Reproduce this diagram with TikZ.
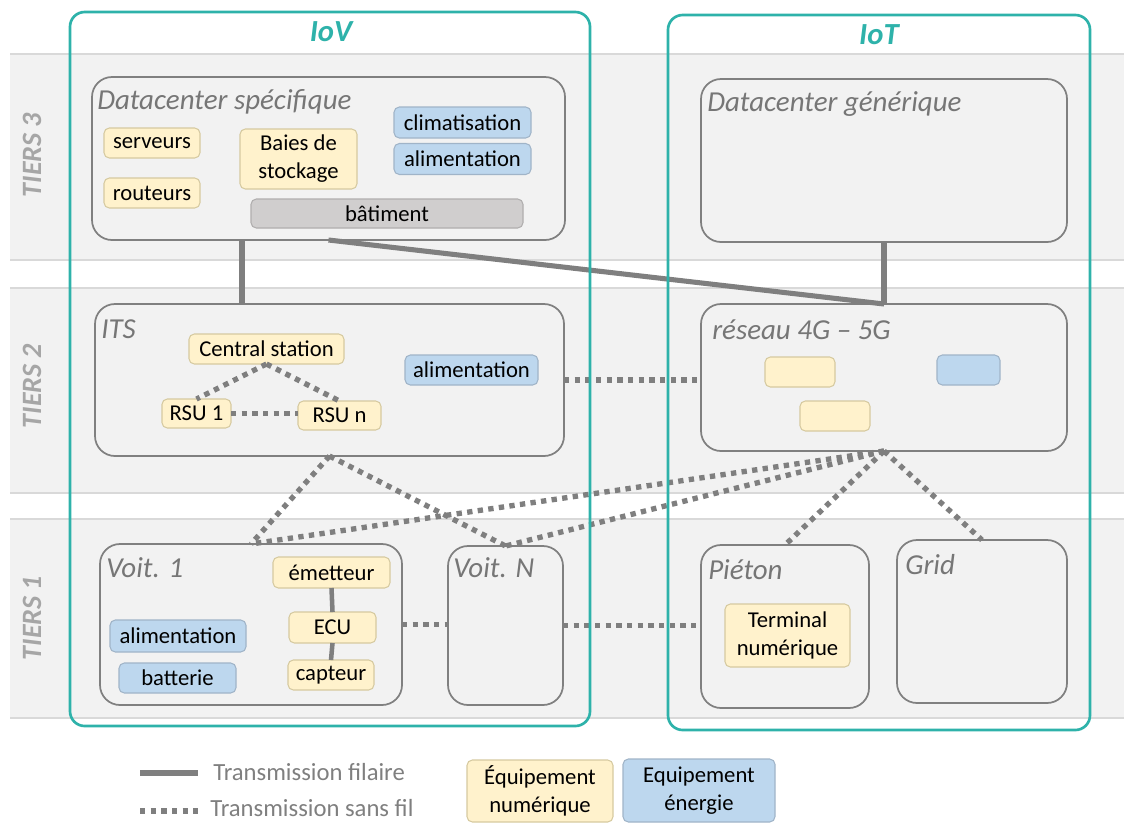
\documentclass[tikz,border=0pt]{standalone}
\usepackage{fontspec}
\setmainfont{Carlito}
\definecolor{teal1}{RGB}{46,178,170}
\definecolor{cgray}{RGB}{128,128,128}
\definecolor{lgray}{RGB}{127,127,127}
\definecolor{lblgray}{RGB}{118,118,118}
\definecolor{tiergray}{RGB}{166,166,166}
\definecolor{bandfill}{RGB}{242,242,242}
\definecolor{bandline}{RGB}{217,217,217}
\definecolor{yfill}{RGB}{255,242,204}
\definecolor{yborder}{RGB}{214,202,160}
\definecolor{bfill}{RGB}{189,215,238}
\definecolor{bborder}{RGB}{160,180,200}
\definecolor{gfill}{RGB}{208,206,206}
\definecolor{gborder}{RGB}{176,174,174}
\begin{document}
\begin{tikzpicture}[x=0.75pt,y=-0.75pt,
  sz/.style 2 args={minimum width=#1*0.75pt, minimum height=#2*0.75pt},
  cont/.style={draw=cgray, line width=1.3pt, fill=bandfill, rounded corners=15pt, inner sep=0pt, outer sep=0pt},
  frame/.style={draw=teal1, line width=2pt, rounded corners=11pt, inner sep=0pt, outer sep=0pt},
  smallbox/.style={line width=0.8pt, rounded corners=4pt, inner sep=0pt, outer sep=0pt, align=center, font=\fontsize{17}{21}\selectfont},
  ybox/.style={smallbox, draw=yborder, fill=yfill},
  bbox/.style={smallbox, draw=bborder, fill=bfill},
  gbox/.style={smallbox, draw=gborder, fill=gfill},
  lbl/.style={font=\fontsize{21.7}{25}\selectfont\itshape, text=lblgray, anchor=west, inner sep=0pt},
  tier/.style={font=\fontsize{21}{24}\selectfont\bfseries\itshape, text=tiergray, rotate=90, inner sep=0pt},
  netlbl/.style={font=\fontsize{23}{26}\selectfont\bfseries\itshape, text=teal1, inner sep=0pt},
  leg/.style={font=\fontsize{18.5}{22}\selectfont, text=lgray, anchor=west, inner sep=0pt},
  wired/.style={draw=lgray, line width=3.8pt},
  thinwired/.style={draw=lgray, line width=3.4pt},
  wless/.style={draw=lgray, line width=4pt, dash pattern=on 4pt off 4pt}]
\useasboundingbox (0,0) rectangle (1124,822);
% tier bands
\fill[bandfill] (10,54) rectangle (1124,260);
\fill[bandfill] (10,288) rectangle (1124,493);
\fill[bandfill] (10,519) rectangle (1124,718);
\draw[bandline, line width=0.8pt] (10,54) -- (1124,54) (10,260) -- (1124,260)
  (10,288) -- (1124,288) (10,493) -- (1124,493)
  (10,519) -- (1124,519) (10,718) -- (1124,718);
\node[tier] (t3) at (32,155) {TIERS 3};
\node[tier] (t2) at (32,386) {TIERS 2};
\node[tier] (t1) at (32,618) {TIERS 1};
% containers
\node[cont, sz={473}{163}] (dcs) at (328.5,158.5) {};
\node[lbl] (dcsl) at (97,102) {Datacenter spécifique};
\node[cont, sz={366}{163}] (dcg) at (884,160.5) {};
\node[lbl] (dcgl) at (707,104) {Datacenter générique};
\node[cont, sz={469}{152}] (its) at (329.5,380) {};
\node[lbl] (itsl) at (101,329) {ITS};
\node[cont, sz={366}{147}] (res) at (884,377.5) {};
\node[lbl] (resl) at (712,330) {réseau 4G – 5G};
\node[cont, sz={302}{161}] (v1) at (251,624.5) {};
\node[lbl] (v1l) at (106,568) {Voit. 1};
\node[cont, sz={115}{159}] (vn) at (505.5,625.5) {};
\node[lbl] (vnl) at (453,568) {Voit. N};
\node[cont, sz={168}{163}] (pie) at (785,626.5) {};
\node[lbl] (piel) at (708,570) {Piéton};
\node[cont, sz={170}{163}] (grid) at (982,621.5) {};
\node[lbl] (gridl) at (905,565) {Grid};
% datacenter spécifique content
\node[ybox, sz={96}{30}] (serv) at (152,143) {serveurs};
\node[ybox, sz={96}{30}] (rout) at (152,193) {routeurs};
\node[ybox, sz={117}{60}] (baie) at (298.5,159) {Baies de\\stockage};
\node[bbox, sz={137}{31}] (clim) at (462.5,122.5) {climatisation};
\node[bbox, sz={137}{31}] (alim3) at (462.5,159) {alimentation};
\node[gbox, sz={272}{29}] (bat) at (387,213.5) {bâtiment};
% ITS content
\node[ybox, sz={155}{30}] (cs) at (266.5,349) {Central station};
\node[ybox, sz={69}{29}] (rsu1) at (196.5,413.5) {RSU 1};
\node[ybox, sz={83}{29}] (rsun) at (339.5,415.5) {RSU n};
\node[bbox, sz={133}{30}] (alim2) at (471.5,370) {alimentation};
% réseau content
\node[ybox, sz={70}{30}] (ry1) at (800,372) {};
\node[bbox, sz={63}{30}] (rb1) at (968.5,370) {};
\node[ybox, sz={70}{30}] (ry2) at (835,416) {};
% voit 1 content
\node[ybox, sz={117}{31}] (emet) at (331.5,572.5) {émetteur};
\node[ybox, sz={87}{31}] (ecu) at (332.5,627.5) {ECU};
\node[ybox, sz={86}{30}] (capt) at (331,675) {capteur};
\node[bbox, sz={136}{32}] (alim1) at (178,636) {alimentation};
\node[bbox, sz={117}{30}] (batt) at (177.5,678) {batterie};
% piéton content
\node[ybox, sz={125}{63}] (term) at (787.5,635.5) {Terminal\\numérique};
% wired connectors
\draw[wired] (242,0 |- dcs.south) -- (242,0 |- its.north);
\draw[wired] (dcs.south) -- (res.north);
\draw[wired] (dcg.south) -- (res.north);
\draw[thinwired] (emet.south) -- (ecu.north);
\draw[thinwired] (ecu.south) -- (capt.north);
% wireless connectors
\draw[wless] (cs.south) -- (rsu1.north);
\draw[wless] (cs.south) -- (rsun.north);
\draw[wless] (rsu1.east) -- (rsu1.east -| rsun.west);
\draw[wless] (its.east) -- (its.east -| res.west);
\draw[wless] (its.south) -- (v1.north);
\draw[wless] (its.south) -- (vn.north);
\draw[wless] (res.south) -- (v1.north);
\draw[wless] (res.south) -- (vn.north);
\draw[wless] (res.south) -- (pie.north);
\draw[wless] (res.south) -- (grid.north);
\draw[wless] (v1.east) -- (v1.east -| vn.west);
\draw[wless] (vn.east) -- (vn.east -| pie.west);
% IoV / IoT frames
\node[frame, sz={520}{714}] (iov) at (330,369) {};
\node[netlbl] (iovl) at (331,32) {IoV};
\node[frame, sz={422}{715}] (iot) at (879,372.5) {};
\node[netlbl] (iotl) at (879,35) {IoT};
% legend
\coordinate (lw1) at (140,773);
\coordinate (lw2) at (198,773);
\coordinate (ls1) at (140,811);
\coordinate (ls2) at (198,811);
\draw[wired] (lw1) -- (lw2);
\draw[wless] (ls1) -- (ls2);
\node[leg] (lwt) at (213,772) {Transmission filaire};
\node[leg] (lst) at (210,808) {Transmission sans fil};
\node[ybox, sz={146}{62}] (legy) at (540,791) {Équipement\\numérique};
\node[bbox, sz={152}{63}] (legb) at (699,790.5) {Equipement\\énergie};
\end{tikzpicture}
\end{document}
